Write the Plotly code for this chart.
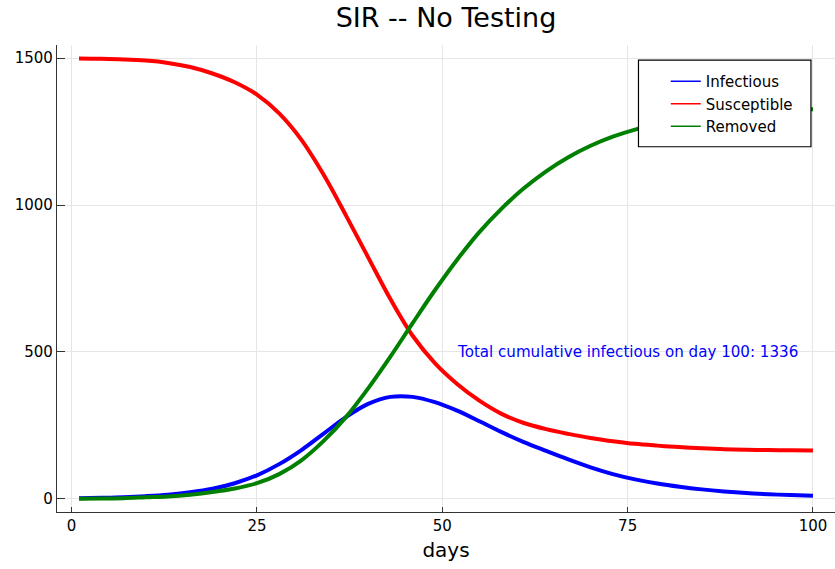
import plotly.graph_objects as go

days = [1, 4, 7, 10, 13, 16, 19, 22, 25, 28, 31, 34, 37, 40, 43, 46, 49, 52, 55,
        58, 61, 64, 67, 70, 73, 76, 79, 82, 85, 88, 91, 94, 97, 100]
susceptible = [1499, 1498, 1496, 1492, 1484, 1470, 1448, 1418, 1376, 1312, 1222, 1103, 965, 822,
               680, 555, 462, 391, 334, 289, 258, 237, 221, 207, 196, 187, 181, 176, 172, 169,
               167, 166, 165, 164]
infectious = [2, 3.5, 5.5, 9, 14, 22, 34, 53, 80, 118, 166, 222, 278, 323, 347, 347, 329, 300,
              264, 227, 193, 163, 134, 107, 84, 66, 52, 41, 32, 25, 19.5, 15.5, 12.5, 10]
removed = [0, 1, 2, 5, 8, 14, 23, 35, 53, 84, 131, 197, 278, 376, 484, 598, 710, 814, 908,
           988, 1057, 1115, 1163, 1202, 1233, 1257, 1276, 1291, 1303, 1311, 1317, 1321, 1324, 1326]

series_names = ["Infectious", "Susceptible", "Removed"]
series_values = [infectious, susceptible, removed]
series_colors = ["#0000FF", "#FF0000", "#008000"]

x_ticks = [0, 25, 50, 75, 100]
y_ticks = [0, 500, 1000, 1500]
annotation_text = "Total cumulative infectious on day 100: 1336"

FONT = "DejaVu Sans"

fig = go.Figure()
for name, vals, col in zip(series_names, series_values, series_colors):
    fig.add_trace(go.Scatter(x=days, y=vals, mode="lines", name=name,
                             line=dict(color=col, width=4, shape="spline", smoothing=1.0),
                             showlegend=False, hoverinfo="skip"))
for name, col in zip(series_names, series_colors):
    fig.add_trace(go.Scatter(x=[None], y=[None], mode="lines", name=name,
                             line=dict(color=col, width=1.5), showlegend=True))

# legend frame
fig.add_shape(type="rect", xref="paper", yref="paper",
              x0=0.7474, x1=0.9691, y0=0.7821, y1=0.9678,
              line=dict(color="black", width=1.2), fillcolor="white", layer="above")

fig.add_annotation(x=75, y=500, text=annotation_text, showarrow=False,
                   xanchor="center", yanchor="middle",
                   font=dict(family=FONT, size=15.1, color="#0000FF"))

axis_common = dict(showgrid=True, gridcolor="#e6e6e6", gridwidth=1,
                   showline=True, linecolor="#333333", linewidth=1.2,
                   ticks="inside", tickcolor="#333333", zeroline=False,
                   automargin=False,
                   tickfont=dict(family=FONT, size=15, color="black"))

fig.update_layout(
    width=835, height=569,
    paper_bgcolor="white", plot_bgcolor="white",
    margin=dict(l=57, r=0, t=45, b=57, autoexpand=False),
    title=dict(text="SIR -- No Testing", x=0.5, xref="paper", xanchor="center",
               y=0.97, yref="container", yanchor="middle", automargin=False,
               font=dict(family=FONT, size=27, color="black")),
    xaxis=dict(range=[-1.97, 102.97], tickvals=x_ticks, ticklen=5,
               title=dict(text="days", font=dict(family=FONT, size=20, color="black"), standoff=8),
               **axis_common),
    yaxis=dict(range=[-45, 1545], tickvals=y_ticks, ticklen=8, **axis_common),
    legend=dict(x=0.7825, y=0.957, xanchor="left", yanchor="top",
                bgcolor="rgba(0,0,0,0)", borderwidth=0,
                font=dict(family=FONT, size=15, color="black")),
)

fig.write_html("out.html", config={"displayModeBar": False},
               post_script="document.body.style.margin='0';document.body.style.padding='0';")
